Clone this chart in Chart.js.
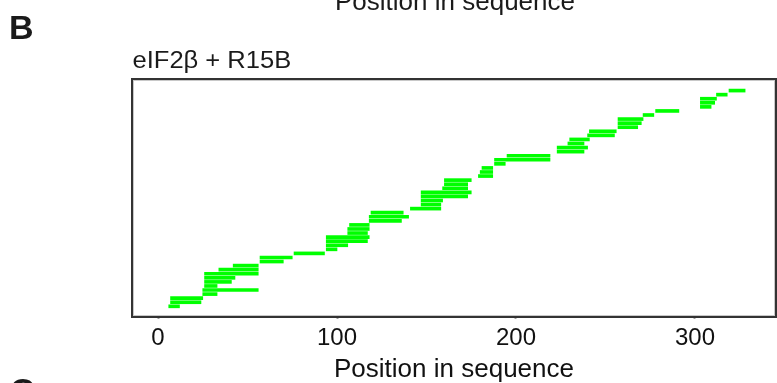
<!DOCTYPE html>
<html>
<head>
<meta charset="utf-8">
<script src="https://cdn.jsdelivr.net/npm/chart.js@4.4.1/dist/chart.umd.min.js"></script>
<style>
  html, body { margin: 0; padding: 0; background: #ffffff; }
  #wrap { position: relative; width: 777px; height: 383px; }
</style>
</head>
<body>
<div id="wrap"><canvas id="c" width="777" height="383"></canvas></div>
<script>
// Peptide coverage map: one row per peptide, spanning its first to last residue
const peptideStart = [6, 7, 7, 25, 25, 26, 26, 26, 26, 34, 42, 57, 57, 76, 94, 94, 94, 94,
  106, 106, 107, 118, 118, 119, 141, 147, 147, 147, 147, 159, 160, 160, 179, 180, 181, 188,
  188, 195, 223, 223, 229, 230, 240, 241, 257, 257, 257, 271, 278, 303, 303, 303, 312, 319];
const peptideEnd = [12, 24, 25, 33, 56, 33, 41, 43, 56, 56, 56, 70, 75, 93, 100, 106, 117, 118,
  117, 118, 118, 136, 140, 137, 158, 158, 159, 173, 175, 173, 173, 175, 187, 187, 187, 194,
  219, 219, 238, 240, 238, 241, 255, 256, 268, 270, 271, 277, 291, 309, 311, 312, 318, 328];
const xTickValues = [0, 100, 200, 300];
const panelLetter = 'B';
const nextPanelLetter = 'C';
const panelTitle = 'eIF2\u03B2 + R15B';
const xTitle = 'Position in sequence';

const FONT = '"Liberation Sans", Arial, Helvetica, sans-serif';

const rows = peptideStart.map((s, i) => ({ x: [s, peptideEnd[i]], y: i }));

// draw text slightly widened horizontally
function wideText(ctx, text, x, y, sx) {
  ctx.save();
  ctx.translate(x, y);
  ctx.scale(sx, 1);
  ctx.fillText(text, 0, 0);
  ctx.restore();
}

// Frame around the plot area plus the panel annotations
const framePlugin = {
  id: 'frame',
  afterDraw(chart) {
    const { ctx, chartArea: a } = chart;
    ctx.save();
    ctx.strokeStyle = '#333333';
    ctx.lineWidth = 2;
    ctx.strokeRect(a.left - 1, a.top - 1, a.right - a.left + 2, a.bottom - a.top + 2);
    ctx.strokeStyle = '#c8c8c8';
    ctx.lineWidth = 1;
    ctx.strokeRect(a.left + 0.5, a.top + 0.5, a.right - a.left - 1, a.bottom - a.top - 1);

    ctx.fillStyle = '#1a1a1a';
    ctx.textBaseline = 'alphabetic';
    ctx.textAlign = 'left';
    ctx.font = 'bold 34px ' + FONT;
    ctx.fillText(panelLetter, 9, 39);
    ctx.fillText(nextPanelLetter, 10, 402);

    ctx.font = '23px ' + FONT;
    wideText(ctx, panelTitle, 132.5, 67.5, 1.11);

    // axis title of the panel above, cut by the top edge
    ctx.textAlign = 'center';
    ctx.font = '26px ' + FONT;
    ctx.fillText(xTitle, 455, 9.5);
    ctx.restore();
  }
};

new Chart(document.getElementById('c'), {
  type: 'bar',
  data: {
    datasets: [{
      data: rows,
      backgroundColor: '#00ff00',
      borderWidth: 0,
      barThickness: 3
    }]
  },
  plugins: [framePlugin],
  options: {
    indexAxis: 'y',
    responsive: false,
    animation: false,
    layout: { padding: { left: 133, right: 2, top: 80, bottom: 0 } },
    plugins: { legend: { display: false }, tooltip: { enabled: false } },
    scales: {
      y: {
        type: 'linear',
        display: false,
        offset: false,
        min: -2.38,
        max: 55.6
      },
      x: {
        type: 'linear',
        min: -13.97,
        max: 344.7,
        afterBuildTicks(scale) {
          scale.ticks = xTickValues.map(v => ({ value: v }));
        },
        afterFit(scale) { scale.height = 383 - 316; },
        border: { display: false },
        grid: {
          drawOnChartArea: false,
          drawTicks: true,
          tickLength: 3,
          tickColor: '#9a9a9a',
          tickWidth: 2
        },
        ticks: {
          color: '#111111',
          font: { family: FONT, size: 24 },
          padding: 5,
          maxRotation: 0,
          autoSkip: false
        },
        title: {
          display: true,
          text: xTitle,
          color: '#111111',
          font: { family: FONT, size: 26 },
          padding: { top: 0, bottom: -2 }
        }
      }
    }
  }
});
</script>
</body>
</html>
